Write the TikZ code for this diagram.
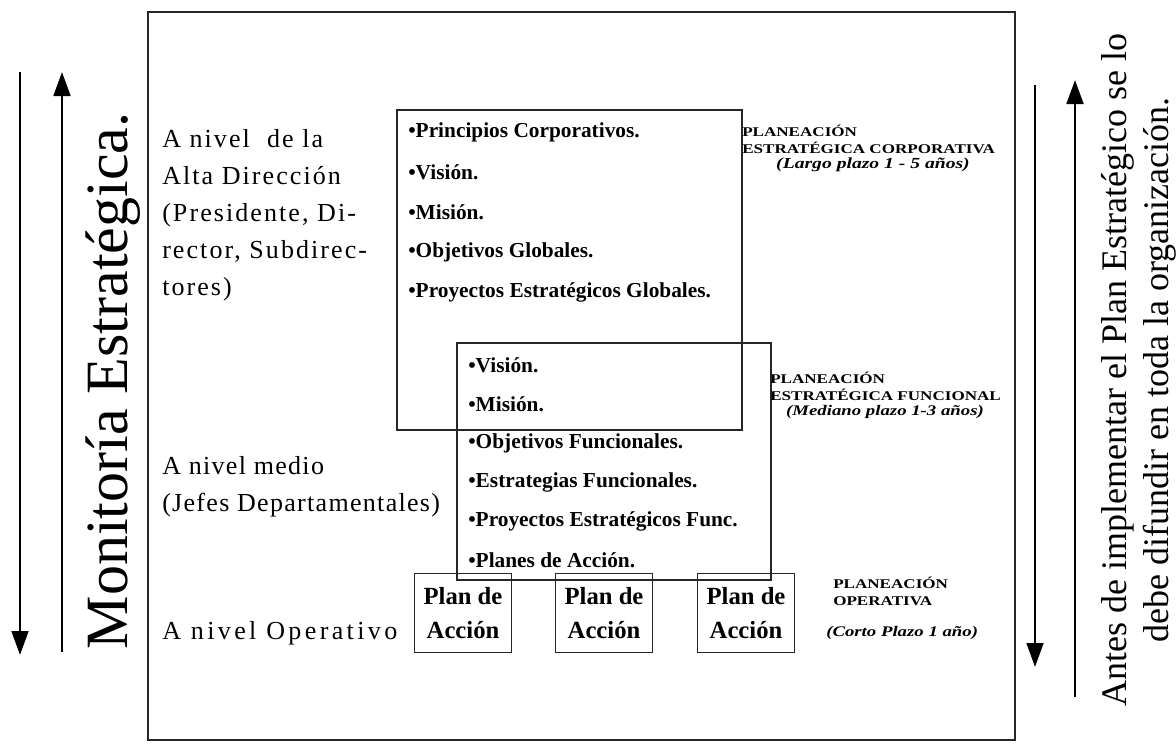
\documentclass[tikz,border=0pt]{standalone}
\usepackage{fontspec}
\setmainfont{Liberation Serif}
\newfontfamily\capsfont[FakeStretch=1.28]{Liberation Serif}
\newfontfamily\levelfont[LetterSpace=8]{Liberation Serif}
\newfontfamily\levelnarrow[LetterSpace=5]{Liberation Serif}
\newfontfamily\levelwide[LetterSpace=13]{Liberation Serif}
\usetikzlibrary{arrows.meta,positioning}

\tikzset{
  frame/.style={draw=black!85, line width=0.9pt},
  item/.style={anchor=west, inner sep=0pt, font=\fontsize{16}{19}\selectfont\bfseries},
  level/.style={anchor=north west, inner sep=0pt, align=left, font=\levelfont\fontsize{19.5}{27.75}\selectfont},
  plan/.style={draw=black!85, line width=0.9pt, minimum width=72.75pt, minimum height=59pt,
    inner sep=0pt, align=center, font=\fontsize{18.5}{25}\selectfont\bfseries},
  caps/.style={anchor=west, inner sep=0pt, font=\capsfont\fontsize{10}{12}\selectfont\bfseries},
  term/.style={inner sep=0pt, font=\capsfont\fontsize{11.5}{13}\selectfont\bfseries\itshape},
  flow/.style={line width=2.1pt, -{Triangle[length=18pt,width=12.5pt]}},
}

\begin{document}
\begin{tikzpicture}[x=0.75pt, y=-0.75pt]
            \useasboundingbox (0,0) rectangle (1176,743);
            \draw[frame, line width=1.1pt] (148,12) rectangle (1015,740);

            % left side
            \coordinate (mon down a) at (20,72);
            \coordinate (mon down b) at (20,655);
            \coordinate (mon up a) at (62,652);
            \coordinate (mon up b) at (62,72);
            \draw[flow] (mon down a) -- (mon down b);
            \draw[flow] (mon up a) -- (mon up b);
            \node[rotate=90, font=\fontsize{45}{50}\selectfont] (monitoria) at (113,381) {Monitoría Estratégica.};

            % levels
            \node[level] (alta) at (162,129) {A nivel\ \ de la\\Alta Dirección\\(Presidente, Di-\\rector, Subdirec-\\tores)};
            \node[level, font=\levelnarrow\fontsize{19.5}{27.75}\selectfont] (medio) at (162,456) {A nivel medio\\(Jefes Departamentales)};
            \node[level, font=\levelwide\fontsize{19.5}{27.75}\selectfont] (oper) at (162,621) {A nivel Operativo};

            % corporate and functional boxes
            \draw[frame] (397,110) rectangle (742,430);
            \draw[frame] (457,343) rectangle (771,580);
            \foreach \y/\txt [count=\i] in {132/Principios Corporativos., 172/Visión., 212/Misión.,
                252/Objetivos Globales., 292/Proyectos Estratégicos Globales.}
                \node[item] (corp\i) at (408,\y) {•\txt};
            \foreach \y/\txt [count=\i] in {365/Visión., 404/Misión., 443/Objetivos Funcionales.,
                482/Estrategias Funcionales., 521/Proyectos Estratégicos Func., 560/Planes de Acción.}
                \node[item] (func\i) at (468,\y) {•\txt};

            % operative plans
            \foreach \x [count=\i] in {463,604,746}
                \node[plan] (plan\i) at (\x,613) {Plan de\\Acción};

            % planning labels
            \node[caps] (pc1) at (742,131) {PLANEACIÓN};
            \node[caps] (pc2) at (742,148) {ESTRATÉGICA CORPORATIVA};
            \node[term] (pc3) at (873,165) {(Largo plazo 1 - 5 años)};
            \node[caps] (pf1) at (770,378) {PLANEACIÓN};
            \node[caps] (pf2) at (770,395) {ESTRATÉGICA FUNCIONAL};
            \node[term, font=\capsfont\fontsize{11}{13}\selectfont\bfseries\itshape] (pf3) at (885,412) {(Mediano plazo 1-3 años)};
            \node[caps] (po1) at (833,583) {PLANEACIÓN};
            \node[caps] (po2) at (833,601) {OPERATIVA};
            \node[term, anchor=west, font=\capsfont\fontsize{11}{13}\selectfont\bfseries\itshape] (po3) at (826,633) {(Corto Plazo 1 año)};

            % right side
            \coordinate (dif down a) at (1035,85);
            \coordinate (dif down b) at (1035,667);
            \coordinate (dif up a) at (1075,697);
            \coordinate (dif up b) at (1075,80);
            \draw[flow] (dif down a) -- (dif down b);
            \draw[flow] (dif up a) -- (dif up b);
            \node[rotate=90, align=center, font=\fontsize{27}{31.5}\selectfont] (difundir) at (1139,370)
                {Antes de implementar el Plan Estratégico se lo\\debe difundir en toda la organización.};
        \end{tikzpicture}
\end{document}
